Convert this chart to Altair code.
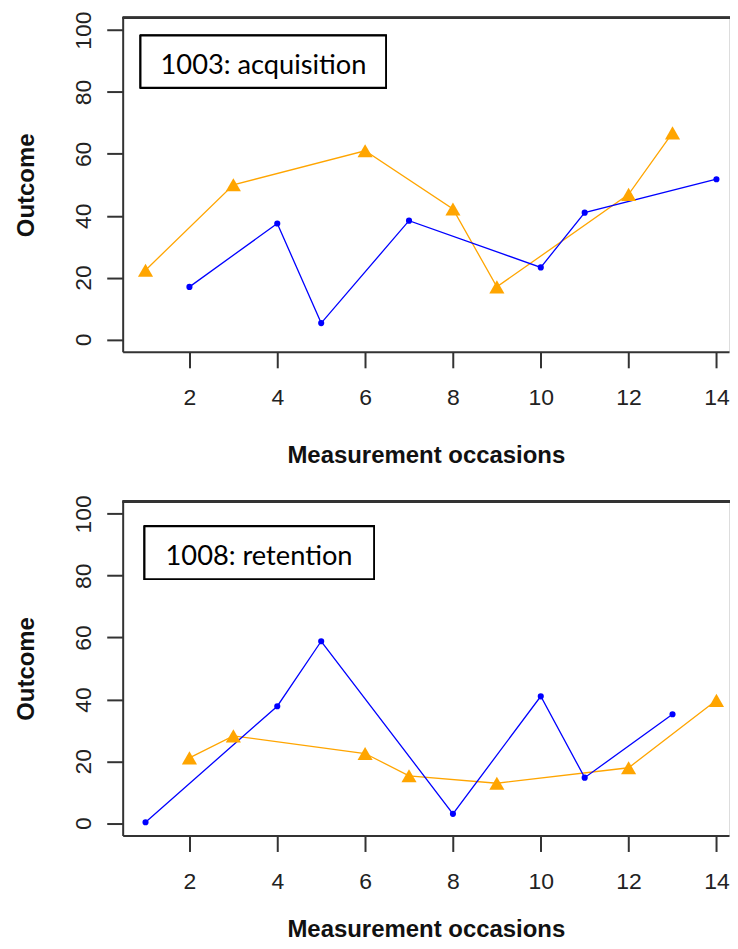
import altair as alt
import pandas as pd

# ---- data ----
top_label = "1003: acquisition"
top_blue_x = [2, 4, 5, 7, 10, 11, 14]
top_blue_y = [17.0, 37.5, 5.3, 38.4, 23.3, 41.0, 51.8]
top_orange_x = [1, 3, 6, 8, 9, 12, 13]
top_orange_y = [22.4, 50.0, 61.0, 42.2, 17.0, 46.9, 66.8]

bot_label = "1008: retention"
bot_blue_x = [1, 4, 5, 8, 10, 11, 13]
bot_blue_y = [0.3, 37.8, 58.8, 3.0, 41.0, 14.7, 35.2]
bot_orange_x = [2, 3, 6, 7, 9, 12, 14]
bot_orange_y = [21.1, 28.2, 22.5, 15.3, 12.9, 17.9, 39.7]

x_ticks = [2, 4, 6, 8, 10, 12, 14]
y_ticks = [0, 20, 40, 60, 80, 100]

# ---- style / layout ----
W, H = 608, 335
X_DOMAIN = [0.48, 14.286]
AXIS_COLOR = "#333333"
BLUE = "#0000FF"
ORANGE = "#FFA500"
FONT = "Liberation Sans"
EXT_LEFT, EXT_TOP, EXT_BOTTOM, EXT_RIGHT = 130, 20, 125, 100


def panel(bx, by, ox, oy, label, box, title_y):
    blue = pd.DataFrame({"x": bx, "y": by})
    orange = pd.DataFrame({"x": ox, "y": oy})
    xenc = alt.X(
        "x:Q",
        scale=alt.Scale(domain=X_DOMAIN, nice=False, zero=False),
        axis=alt.Axis(
            values=x_ticks, title="Measurement occasions", grid=False,
            domainColor=AXIS_COLOR, domainWidth=2, tickColor=AXIS_COLOR,
            tickWidth=2, tickSize=16, labelFont=FONT, labelFontSize=23,
            labelColor="#222222", labelBaseline="alphabetic", labelPadding=37,
            titleFont=FONT, titleFontSize=24, titleFontWeight="bold",
            titleColor="#111111", titleBaseline="alphabetic", titleY=title_y,
            labelFlush=False, labelOverlap=False,
        ),
    )
    yenc = alt.Y(
        "y:Q",
        scale=alt.Scale(domain=[-4, 104], nice=False, zero=False),
        axis=alt.Axis(
            values=y_ticks, title="Outcome", grid=False,
            domainColor=AXIS_COLOR, domainWidth=2, tickColor=AXIS_COLOR,
            tickWidth=2, tickSize=16, labelFont=FONT, labelFontSize=23,
            labelColor="#222222", labelAngle=270, labelAlign="center",
            labelBaseline="alphabetic", labelPadding=16,
            titleFont=FONT, titleFontSize=24, titleFontWeight="bold",
            titleColor="#111111", titleAngle=270, titleAlign="center",
            titleBaseline="alphabetic", titleX=-89,
            labelFlush=False, labelOverlap=False,
        ),
    )
    bline = alt.Chart(blue).mark_line(color=BLUE, strokeWidth=1.3).encode(x=xenc, y=yenc)
    bpts = alt.Chart(blue).mark_point(shape="circle", filled=True, color=BLUE, size=38, opacity=1).encode(x=xenc, y=yenc)
    oline = alt.Chart(orange).mark_line(color=ORANGE, strokeWidth=1.3).encode(x=xenc, y=yenc)
    opts = alt.Chart(orange).mark_point(shape="triangle-up", filled=True, color=ORANGE, size=230, opacity=1).encode(x=xenc, y=yenc)
    # top edge of the frame (the right side is cut off in the reference)
    topline = alt.Chart(blue).mark_rule(color=AXIS_COLOR, strokeWidth=2).encode(
        x=alt.value(0), x2=alt.value(W + 10), y=alt.value(0))
    # invisible guides that fix the panel's layout bounds
    guide_top = alt.Chart(blue).mark_rule(opacity=0, strokeOpacity=0).encode(
        x=alt.value(-EXT_LEFT), x2=alt.value(W + EXT_RIGHT), y=alt.value(-EXT_TOP))
    guide_bot = alt.Chart(blue).mark_rule(opacity=0, strokeOpacity=0).encode(
        x=alt.value(-EXT_LEFT), x2=alt.value(W + EXT_RIGHT), y=alt.value(H + EXT_BOTTOM))
    x0, y0, x1, y1, tx, ty = box
    rect = alt.Chart(blue).mark_rect(fill="white", stroke="black", strokeWidth=1.7).encode(
        x=alt.value(x0), x2=alt.value(x1), y=alt.value(y0), y2=alt.value(y1))
    txt = alt.Chart(pd.DataFrame({"t": [label]})).mark_text(
        font="Lato", fontSize=27.3, align="left", baseline="alphabetic", color="black"
    ).encode(x=alt.value(tx), y=alt.value(ty), text="t:N")
    return alt.layer(oline, bline, opts, bpts, topline, guide_top, guide_bot, rect, txt).properties(
        width=W, height=H)


top = panel(top_blue_x, top_blue_y, top_orange_x, top_orange_y, top_label,
            (18, 18, 264, 70, 38, 56), 111)
bottom = panel(bot_blue_x, bot_blue_y, bot_orange_x, bot_orange_y, bot_label,
               (22, 25, 252, 78, 43, 64), 101.5)

chart = alt.vconcat(top, bottom, spacing=3).properties(
    padding={"left": -16, "top": -12.5, "right": -100, "bottom": -17.5}
).configure_view(strokeWidth=0, stroke="transparent").configure(background="white")

chart.save("out.html", embed_options={"renderer": "svg", "actions": False})
